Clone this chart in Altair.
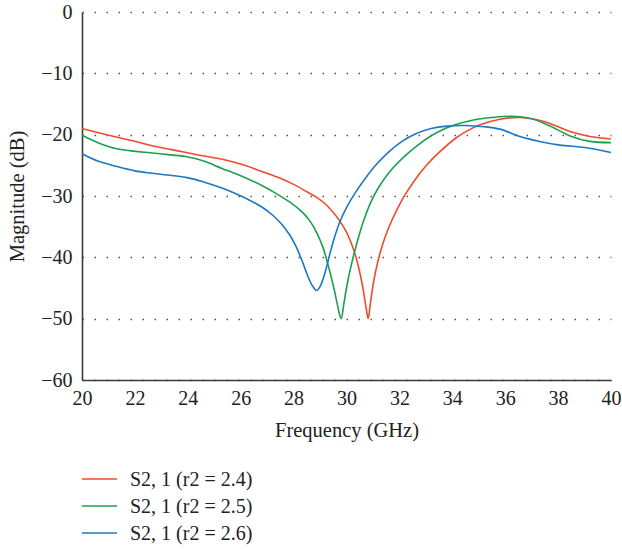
import altair as alt
import pandas as pd

# S21 magnitude traces per series (frequency in GHz, magnitude in dB)
freq_24 = [20, 21, 21.9, 22.65, 23.8, 24.5, 25.3, 26, 26.8, 27.5, 28, 28.5, 28.9, 29.2,
           29.5, 29.75, 30.0, 30.2, 30.38, 30.52, 30.64, 30.74, 30.82, 30.9, 31.0, 31.12,
           31.27, 31.45, 31.65, 31.9, 32.2, 32.6, 33.0, 33.5, 34.15, 34.6, 35.05, 35.8,
           36.56, 37.5, 38.45, 39.2, 40]
mag_24 = [-19.0, -20.1, -21.0, -21.8, -22.8, -23.4, -24.0, -24.8, -26.0, -27.1, -28.1,
          -29.3, -30.3, -31.3, -32.7, -34.1, -35.9, -37.9, -40.3, -42.8, -45.5, -48.2,
          -50.0, -47.6, -44.6, -41.9, -39.3, -36.8, -34.6, -32.3, -29.9, -27.3, -25.1,
          -22.9, -20.5, -19.3, -18.4, -17.5, -17.2, -17.9, -19.5, -20.3, -20.7]

freq_25 = [20, 20.6, 21.32, 22.65, 23.97, 24.6, 25.29, 26.0, 26.8, 27.3, 27.86, 28.32,
           28.62, 28.9, 29.12, 29.3, 29.5, 29.65, 29.72, 29.8, 29.9, 30.0, 30.12, 30.27,
           30.45, 30.65, 30.9, 31.2, 31.6, 32.1, 32.7, 33.4, 34.1, 34.8, 35.5, 36.2, 37.0,
           37.7, 38.45, 39.2, 40]
mag_25 = [-20.1, -21.3, -22.3, -23.0, -23.6, -24.3, -25.5, -26.7, -28.3, -29.5, -31.0,
          -32.6, -34.1, -36.2, -38.5, -41.2, -44.6, -47.6, -49.0, -50.0, -47.6, -45.0,
          -42.4, -39.7, -36.8, -34.0, -31.2, -28.7, -26.2, -23.9, -21.7, -19.7, -18.4,
          -17.6, -17.2, -17.0, -17.4, -18.6, -20.2, -21.1, -21.3]

freq_26 = [20, 20.6, 21.32, 22.0, 22.65, 23.97, 24.6, 25.29, 25.8, 26.3, 26.8, 27.2,
           27.55, 27.86, 28.1, 28.35, 28.55, 28.72, 28.87, 29.02, 29.2, 29.38, 29.55,
           29.75, 30.0, 30.3, 30.7, 31.1, 31.6, 32.1, 32.6, 33.2, 33.8, 34.5, 35.2, 35.8,
           36.56, 37.3, 38.07, 39.0, 40]
mag_26 = [-23.1, -24.3, -25.2, -25.9, -26.3, -27.0, -27.7, -28.7, -29.6, -30.6, -31.8,
          -33.1, -34.6, -36.4, -38.3, -40.9, -43.2, -44.7, -45.4, -44.6, -42.3, -39.3,
          -36.7, -34.2, -31.9, -29.7, -27.2, -25.0, -22.8, -21.1, -19.9, -19.0, -18.6,
          -18.5, -18.7, -19.1, -20.3, -21.1, -21.7, -22.1, -22.9]

series_names = ["S2, 1 (r2 = 2.4)", "S2, 1 (r2 = 2.5)", "S2, 1 (r2 = 2.6)"]
series_colors = ["#ef4b2c", "#19a152", "#1c78c3"]
x_ticks = [20, 22, 24, 26, 28, 30, 32, 34, 36, 38, 40]
y_ticks = [0, -10, -20, -30, -40, -50, -60]

frames = []
for name, f, m in zip(series_names, [freq_24, freq_25, freq_26], [mag_24, mag_25, mag_26]):
    frames.append(pd.DataFrame({"freq": f, "mag": m, "series": name}))
df = pd.concat(frames, ignore_index=True)

# legend rows below the plot (pixel offsets from the top of the plot area)
legend_df = pd.DataFrame({"series": series_names, "row": list(range(len(series_names)))})
LEGEND_TOP = 467
LEGEND_STEP = 27

FONT = "Liberation Serif"
color_scale = alt.Scale(domain=series_names, range=series_colors)

lines = (
    alt.Chart(df)
    .mark_line(interpolate="catmull-rom", strokeWidth=1.6)
    .encode(
        x=alt.X(
            "freq:Q",
            title="Frequency (GHz)",
            scale=alt.Scale(domain=[20, 40], nice=False, zero=False),
            axis=alt.Axis(values=x_ticks, grid=False, ticks=False, labelPadding=8,
                          labelFlush=False, titlePadding=12, format="d"),
        ),
        y=alt.Y(
            "mag:Q",
            title="Magnitude (dB)",
            scale=alt.Scale(domain=[-60, 0], nice=False),
            axis=alt.Axis(values=y_ticks, grid=True, ticks=False, labelPadding=10,
                          labelFlush=False, titlePadding=13, format="d",
                          gridDash=[1.5, 10.5], gridWidth=1.5, gridColor="#555555"),
        ),
        color=alt.Color("series:N", scale=color_scale, legend=None),
    )
)

legend_base = alt.Chart(legend_df).transform_calculate(
    ly=f"{LEGEND_TOP} + datum.row * {LEGEND_STEP}"
)

legend_swatches = legend_base.mark_rule(strokeWidth=1.6).encode(
    x=alt.value(0),
    x2=alt.value(35),
    y=alt.Y("ly:Q", scale=None, axis=None),
    color=alt.Color("series:N", scale=color_scale, legend=None),
)

legend_labels = legend_base.mark_text(
    align="left", baseline="middle", font=FONT, fontSize=20, color="#222222", dy=1
).encode(
    x=alt.value(48),
    y=alt.Y("ly:Q", scale=None, axis=None),
    text="series:N",
)

chart = (
    alt.layer(lines, legend_swatches, legend_labels)
    .resolve_scale(y="independent")
    .properties(
        width=529,
        height=368,
        autosize=alt.AutoSizeParams(type="none"),
        padding={"left": 82, "top": 12, "right": 11, "bottom": 170},
    )
    .configure_view(stroke=None)
    .configure_axis(
        labelFont=FONT,
        labelFontSize=20,
        labelColor="#222222",
        titleFont=FONT,
        titleFontSize=20.5,
        titleFontWeight="normal",
        titleColor="#222222",
        domainColor="#3a3a3a",
        domainWidth=1.6,
    )
)

chart.save("out.html", embed_options={"renderer": "svg", "actions": False})
